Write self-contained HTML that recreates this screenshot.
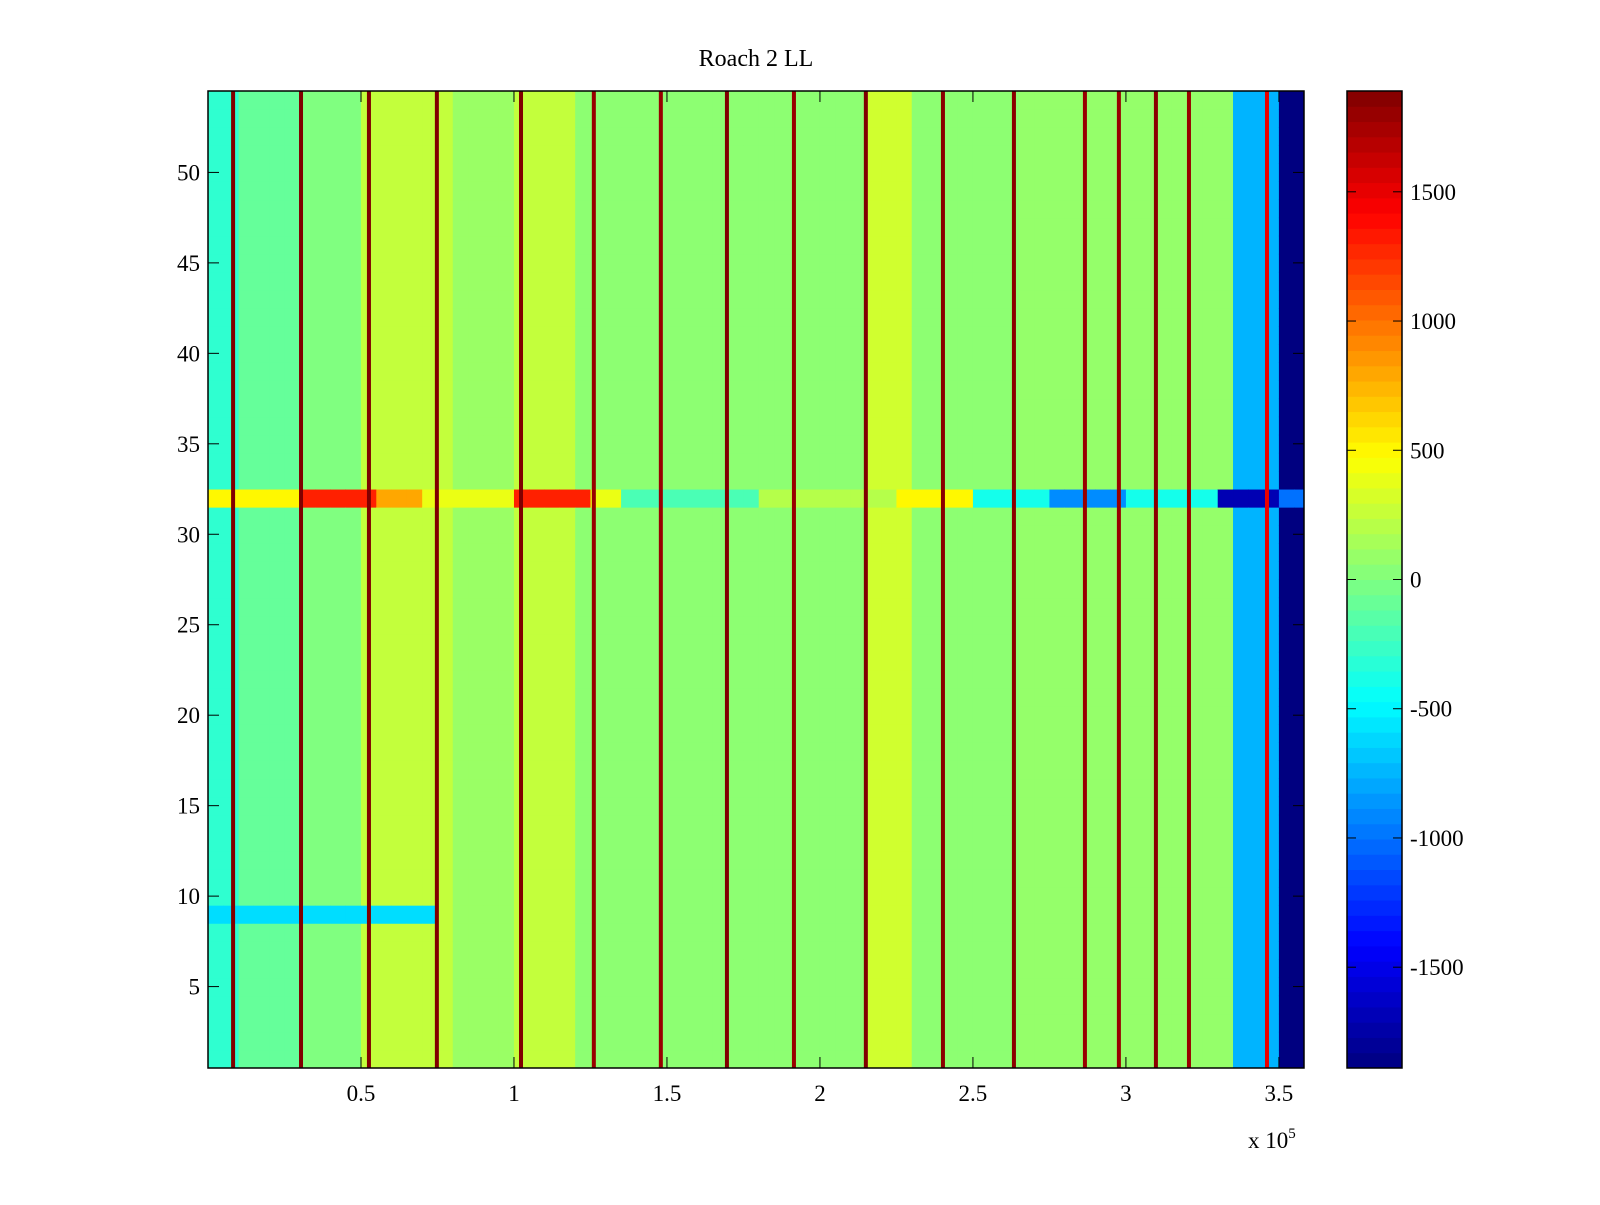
<!DOCTYPE html>
<html><head><meta charset="utf-8"><style>
html,body{margin:0;padding:0;background:#fff;}
svg text{font-family:"Liberation Serif",serif;fill:#000;}
</style></head><body>
<svg id="chart" width="1600" height="1200" xmlns="http://www.w3.org/2000/svg">
<rect width="1600" height="1200" fill="#fff"/>
<text x="756" y="66" font-size="24" text-anchor="middle">Roach 2 LL</text>
<g id="cells"></g>
<g id="axes"></g>
<g id="cbar"></g>
</svg>
<script>
// ---- data ----
const binWidth = 5000;            // x units per column bin
const rowCount = 54;
const colBase = [-300,-300,-100,-100,-100,-100,0,0,0,0,250,250,250,250,250,250,100,100,100,100,
 250,250,250,250,50,50,50,50,50,50,50,50,50,50,50,50,50,50,50,50,50,50,50,300,300,300,
 50,50,50,50,50,50,50,80,80,80,80,80,80,80,80,80,80,80,80,80,80,-750,-750,-750,-1890,-1890];
const row32 = [500,500,500,500,500,500,1300,1300,1300,1300,1300,800,800,800,400,400,400,400,400,400,
 1300,1300,1300,1300,1300,400,400,-200,-200,-200,-200,-200,-200,-200,-200,-200,200,200,200,200,200,200,200,200,200,
 500,500,500,500,500,-400,-400,-400,-400,-400,-900,-900,-900,-900,-900,-400,-400,-400,-400,-400,-400,-1700,-1700,-1700,-1700,-1000,-1000];
const row9Left = [-600,-600,-600,-600,-600,-600,-600,-600,-600,-600,-600,-600,-600,-600,-600];
const stripeX = [8.2,30.4,52.6,74.8,102.3,126.1,148,169.6,191.5,215,240.2,263.4,286.6,297.7,309.8,320.6,346.1]; // x10^3
const stripeVal = [1890,1890,1890,1890,1890,1800,1800,1890,1800,1890,1850,1850,1800,1800,1850,1800,1500];
const xTicks = [0.5,1,1.5,2,2.5,3,3.5];
const yTicks = [5,10,15,20,25,30,35,40,45,50];
const cTicks = [-1500,-1000,-500,0,500,1000,1500];
const cMin = -1890, cMax = 1890;
const xMax = 3.582e5;

// ---- layout ----
const L=208,R=1304,T=91,B=1068;
const xs = v => L + v/xMax*(R-L);
const ys = v => B - (v-0.5)/54*(B-T);
const CL=1347,CR=1402;
const cs = v => B - (v-cMin)/(cMax-cMin)*(B-T);
const NS="http://www.w3.org/2000/svg";
function jet(v){
  let t=(v-cMin)/(cMax-cMin); t=Math.max(0,Math.min(1,t));
  const f=x=>Math.max(0,Math.min(1,x));
  const r=f(1.5-Math.abs(4*t-3)), g=f(1.5-Math.abs(4*t-2)), b=f(1.5-Math.abs(4*t-1));
  return `rgb(${Math.round(r*255)},${Math.round(g*255)},${Math.round(b*255)})`;
}
function mk(tag,attrs,parent){const e=document.createElementNS(NS,tag);for(const k in attrs)e.setAttribute(k,attrs[k]);parent.appendChild(e);return e;}
const cells=document.getElementById('cells');
for(let c=0;c<colBase.length;c++){
  const x0=xs(c*binWidth), x1=Math.min(R,xs((c+1)*binWidth));
  if(x0>=R) break;
  for(let r=1;r<=rowCount;r++){
    let v=colBase[c];
    if(r===32) v=row32[c];
    if(r===9 && c<row9Left.length) v=row9Left[c];
    const e=mk('rect',{x:x0,y:ys(r+0.5),width:x1-x0+0.5,height:ys(r-0.5)-ys(r+0.5)+0.5,fill:jet(v)},cells);
    
    
  }
}
stripeX.forEach((s,i)=>{
  const e=mk('rect',{x:xs(s*1000)-2,y:T,width:4,height:B-T,fill:jet(stripeVal[i])},cells);
  
  
});
const axes=document.getElementById('axes');
mk('rect',{x:L,y:T,width:R-L,height:B-T,fill:'none',stroke:'#000','stroke-width':1.5},axes);
xTicks.forEach(t=>{
  const x=xs(t*1e5);
  mk('line',{x1:x,y1:B,x2:x,y2:B-11,stroke:'#000'},axes);
  mk('line',{x1:x,y1:T,x2:x,y2:T+11,stroke:'#000'},axes);
  const tx=mk('text',{x:x,y:B+33,'font-size':23,'text-anchor':'middle'},axes);
  tx.textContent=String(t);
  
  
});
yTicks.forEach(t=>{
  const y=ys(t);
  mk('line',{x1:L,y1:y,x2:L+11,y2:y,stroke:'#000'},axes);
  mk('line',{x1:R,y1:y,x2:R-11,y2:y,stroke:'#000'},axes);
  const tx=mk('text',{x:L-8,y:y+8,'font-size':23,'text-anchor':'end'},axes);
  tx.textContent=String(t);
  
  
});
const ex=mk('text',{x:1248,y:1148,'font-size':23},axes);
ex.innerHTML='x 10<tspan dy="-10" font-size="15">5</tspan>';


const cb=document.getElementById('cbar');
const steps=64;
for(let i=0;i<steps;i++){
  const v0=cMin+(cMax-cMin)*i/steps, v1=cMin+(cMax-cMin)*(i+1)/steps;
  const e=mk('rect',{x:CL,y:cs(v1),width:CR-CL,height:cs(v0)-cs(v1)+0.5,fill:jet((v0+v1)/2)},cb);
  
  
}
mk('rect',{x:CL,y:T,width:CR-CL,height:B-T,fill:'none',stroke:'#000','stroke-width':1.5},cb);
cTicks.forEach(t=>{
  const y=cs(t);
  mk('line',{x1:CL,y1:y,x2:CL+9,y2:y,stroke:'#000'},cb);
  mk('line',{x1:CR,y1:y,x2:CR-9,y2:y,stroke:'#000'},cb);
  const tx=mk('text',{x:CR+8,y:y+8,'font-size':23},cb);
  tx.textContent=String(t);
  
  
});
</script>
</body></html>
